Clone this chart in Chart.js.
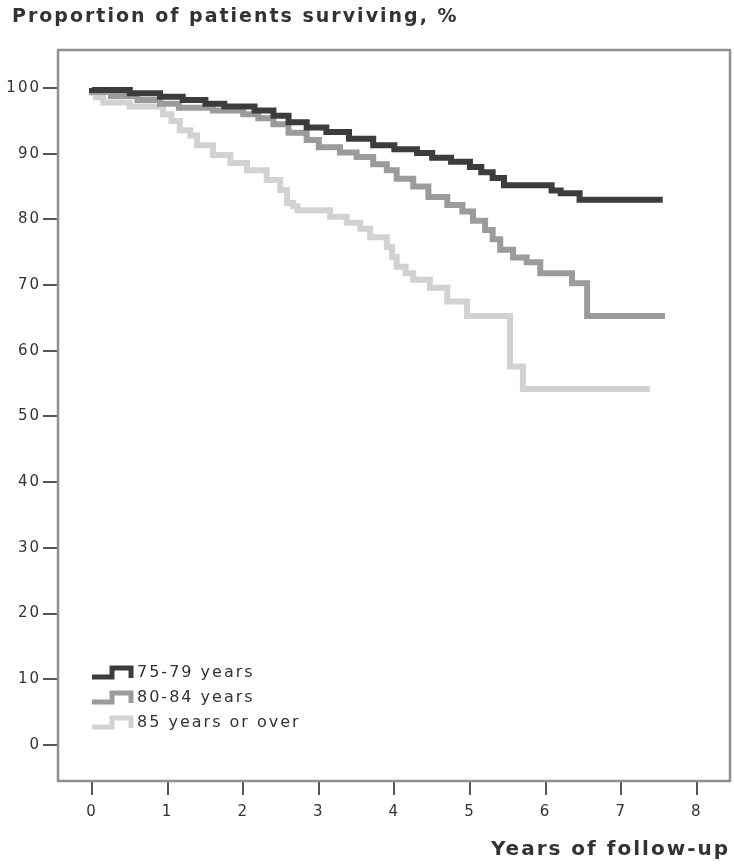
<!DOCTYPE html>
<html>
<head>
<meta charset="utf-8">
<title>Proportion of patients surviving</title>
<script src="https://cdn.jsdelivr.net/npm/chart.js@4.4.1/dist/chart.umd.min.js"></script>
<style>
    body { margin: 0; background: #fff; }
    canvas { display: block; }
</style>
</head>
<body>
<canvas id="kmChart" width="734" height="866"></canvas>
<script>
// Kaplan-Meier survival by age group
const chartTitle = 'Proportion of patients surviving, %';
const xAxisTitle = 'Years of follow-up';
const groupLabels = ['75-79 years', '80-84 years', '85 years or over'];
const groupColors = ['#3c3c3c', '#9b9b9b', '#d2d2d2'];

// 75-79 years
const years7579 = [0, 0.5, 0.9, 1.2, 1.5, 1.75, 2.15, 2.4, 2.6, 2.84, 3.1, 3.4, 3.72, 4.0, 4.3, 4.5, 4.75, 5.0, 5.15, 5.3, 5.45, 6.08, 6.2, 6.45, 6.63, 7.55];
const surv7579  = [100, 99.7, 99.2, 98.7, 98.2, 97.6, 97.2, 96.6, 95.8, 94.8, 94.0, 93.3, 92.3, 91.3, 90.7, 90.1, 89.4, 88.8, 88.0, 87.2, 86.3, 85.2, 84.4, 84.0, 83.0, 83.0];

// 80-84 years
const years8084 = [0, 0.25, 0.6, 0.9, 1.15, 1.6, 2.0, 2.2, 2.4, 2.6, 2.84, 3.0, 3.28, 3.5, 3.72, 3.9, 4.03, 4.25, 4.45, 4.7, 4.9, 5.04, 5.2, 5.3, 5.4, 5.57, 5.75, 5.93, 6.35, 6.55, 7.03, 7.58];
const surv8084  = [100, 99.4, 98.8, 98.2, 97.6, 97.0, 96.6, 96.0, 95.4, 94.5, 93.2, 92.1, 91.0, 90.2, 89.5, 88.4, 87.5, 86.2, 85.0, 83.4, 82.2, 81.2, 79.8, 78.4, 77.0, 75.4, 74.2, 73.5, 71.8, 70.3, 65.3, 65.3];

// 85 years or over
const years85 = [0, 0.05, 0.15, 0.5, 0.94, 1.05, 1.16, 1.3, 1.39, 1.6, 1.83, 2.05, 2.31, 2.49, 2.58, 2.66, 2.72, 3.15, 3.37, 3.55, 3.68, 3.9, 3.97, 4.03, 4.15, 4.25, 4.47, 4.7, 4.96, 5.53, 5.7, 6.06, 7.38];
const surv85  = [100, 99.3, 98.6, 97.8, 97.2, 96.0, 95.0, 93.6, 92.8, 91.3, 89.8, 88.6, 87.5, 86.0, 84.5, 82.5, 82.0, 81.4, 80.4, 79.5, 78.6, 77.3, 75.8, 74.3, 72.8, 71.8, 70.8, 69.6, 67.5, 65.3, 57.6, 54.2, 54.2];

const xTickValues = [0, 1, 2, 3, 4, 5, 6, 7, 8];
const yTickValues = [0, 10, 20, 30, 40, 50, 60, 70, 80, 90, 100];

function toPoints(xs, ys) {
    return xs.map((x, i) => ({ x: x, y: ys[i] }));
}

const seriesYears = [years7579, years8084, years85];
const seriesSurv = [surv7579, surv8084, surv85];

const datasets = groupLabels.map((label, i) => ({
    label: label,
    data: toPoints(seriesYears[i], seriesSurv[i]),
    borderColor: groupColors[i],
    backgroundColor: groupColors[i],
    borderWidth: 6,
    borderCapStyle: 'butt',
    borderJoinStyle: 'miter',
    stepped: 'after',
    pointRadius: 0,
    fill: false,
}));

// letter spacing so the text width follows the scanned figure
const spacingPlugin = {
    id: 'spacing',
    beforeDraw(chart) {
        chart.ctx.letterSpacing = '2px';
    }
};

// box round the plot area
const framePlugin = {
    id: 'frame',
    beforeDatasetsDraw(chart) {
        const { ctx, chartArea } = chart;
        ctx.save();
        ctx.strokeStyle = '#8f8f8f';
        ctx.lineWidth = 2.5;
        ctx.strokeRect(chartArea.left, chartArea.top, chartArea.right - chartArea.left, chartArea.bottom - chartArea.top);
        ctx.restore();
    }
};

// title top left (the built-in title can't be indented past the y axis box)
const topTitlePlugin = {
    id: 'topTitle',
    afterDraw(chart) {
        const ctx = chart.ctx;
        ctx.save();
        ctx.letterSpacing = '2px';
        ctx.font = 'bold 19px "DejaVu Sans"';
        ctx.fillStyle = '#333';
        ctx.textAlign = 'left';
        ctx.textBaseline = 'middle';
        ctx.fillText(chartTitle, 12, 17);
        ctx.restore();
    }
};

// legend with little step icons, inside the plot at lower left
const stepLegendPlugin = {
    id: 'stepLegend',
    afterDraw(chart) {
        const { ctx, chartArea } = chart;
        const x0 = chartArea.left + 34;
        const rows = [673, 698, 723];
        ctx.save();
        chart.data.datasets.forEach((ds, i) => {
            const yc = rows[i];
            ctx.strokeStyle = ds.borderColor;
            ctx.lineWidth = 5;
            ctx.lineJoin = 'miter';
            ctx.beginPath();
            ctx.moveTo(x0, yc + 4);
            ctx.lineTo(x0 + 20, yc + 4);
            ctx.lineTo(x0 + 20, yc - 5);
            ctx.lineTo(x0 + 39, yc - 5);
            ctx.lineTo(x0 + 39, yc + 5);
            ctx.stroke();

            ctx.letterSpacing = '2px';
            ctx.font = '16px "DejaVu Sans"';
            ctx.fillStyle = '#333';
            ctx.textAlign = 'left';
            ctx.textBaseline = 'middle';
            ctx.fillText(ds.label, x0 + 45, yc);
        });
        ctx.restore();
    }
};

Chart.defaults.font.family = '"DejaVu Sans", Verdana, sans-serif';
Chart.defaults.color = '#333';

const ctx = document.getElementById('kmChart').getContext('2d');
const kmChart = new Chart(ctx, {
    type: 'line',
    data: { datasets: datasets },
    options: {
        responsive: false,
        animation: false,
        layout: { padding: { left: 0, right: 4, top: 50, bottom: 0 } },
        plugins: {
            legend: { display: false },
            tooltip: { enabled: false },
            title: { display: false }
        },
        scales: {
            x: {
                type: 'linear',
                min: -0.45,
                max: 8.44,
                afterBuildTicks: (scale) => { scale.ticks = xTickValues.map(v => ({ value: v })); },
                afterFit: (scale) => { scale.height = 85; },
                border: { display: false },
                grid: { drawOnChartArea: false, drawTicks: true, tickLength: 14, color: '#555', lineWidth: 2 },
                ticks: { padding: 8, color: '#333', font: { size: 15 }, maxRotation: 0 },
                title: {
                    display: true,
                    text: xAxisTitle,
                    align: 'end',
                    color: '#333',
                    font: { size: 20, weight: 'bold' },
                    padding: { top: 0, bottom: 4 }
                }
            },
            y: {
                type: 'linear',
                min: -5.5,
                max: 105.8,
                afterBuildTicks: (scale) => { scale.ticks = yTickValues.map(v => ({ value: v })); },
                afterFit: (scale) => { scale.width = 58; },
                border: { display: false },
                grid: { drawOnChartArea: false, drawTicks: true, tickLength: 15, color: '#555', lineWidth: 2 },
                ticks: { padding: 2, color: '#333', font: { size: 15 } }
            }
        }
    },
    plugins: [spacingPlugin, framePlugin, topTitlePlugin, stepLegendPlugin]
});
</script>
</body>
</html>
